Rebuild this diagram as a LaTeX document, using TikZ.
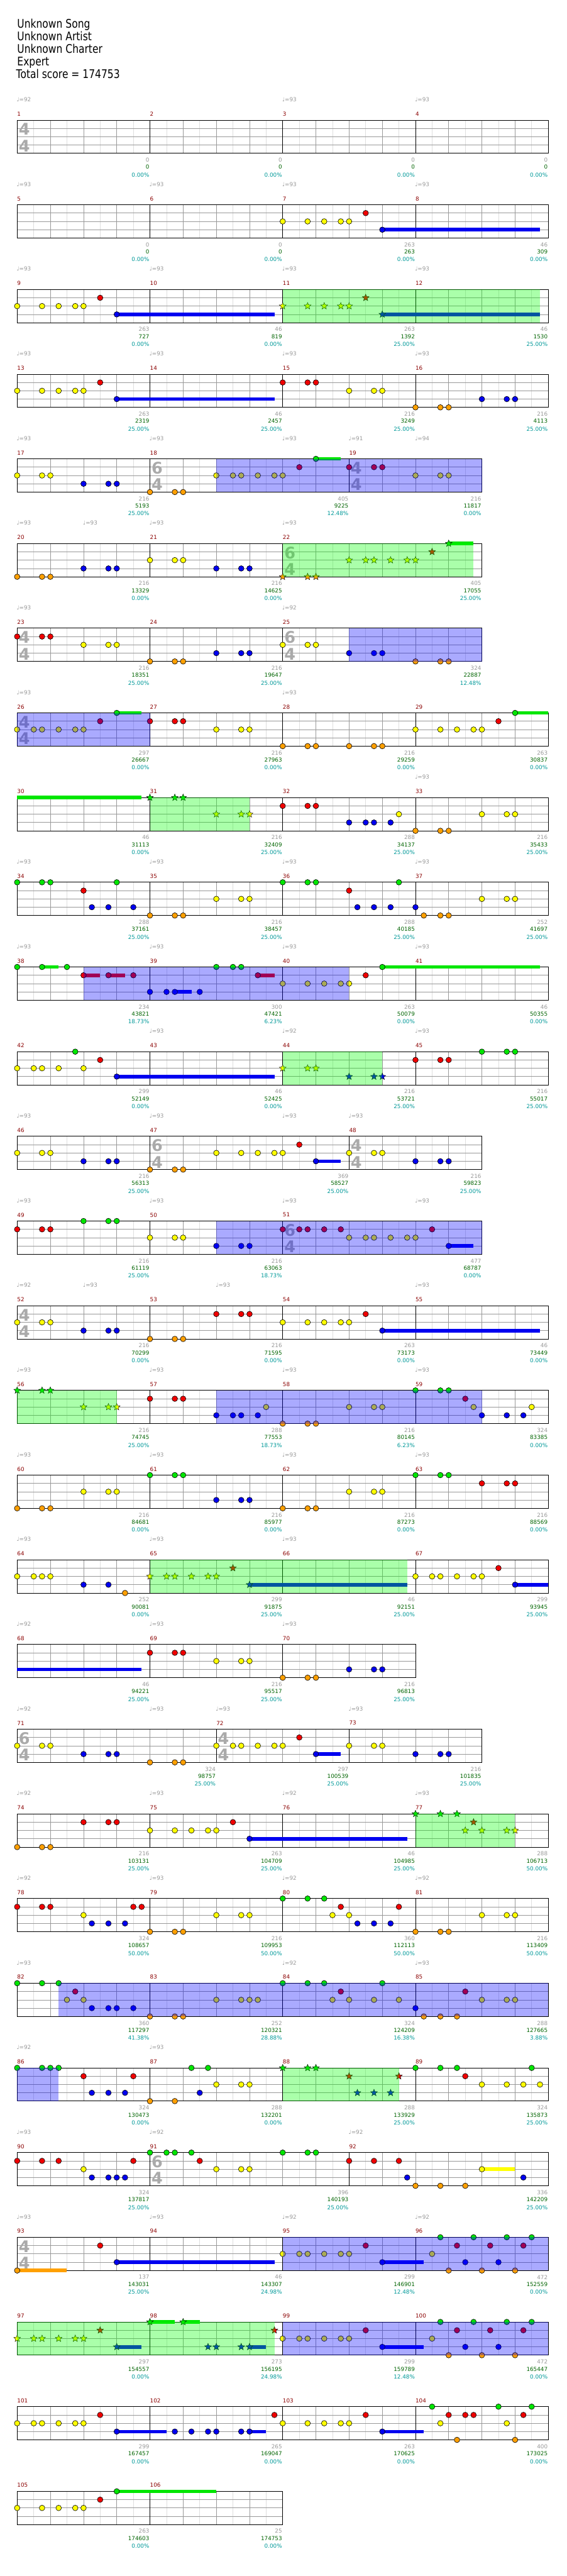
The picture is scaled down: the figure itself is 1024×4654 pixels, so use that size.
\documentclass[tikz,border=0pt]{standalone}
\usepackage{fontspec}
\setmainfont{DejaVu Sans}
\newfontfamily\hdrfont[FakeStretch=0.82]{DejaVu Sans}
\usetikzlibrary{shapes.geometric}
\definecolor{ln0}{RGB}{0,230,0}
\definecolor{ln1}{RGB}{240,0,0}
\definecolor{ln2}{RGB}{255,255,0}
\definecolor{ln3}{RGB}{0,0,240}
\definecolor{ln4}{RGB}{255,160,0}
\definecolor{mred}{RGB}{139,0,0}
\definecolor{sgrey}{RGB}{153,153,153}
\definecolor{sgreen}{RGB}{0,100,0}
\definecolor{steal}{RGB}{0,153,153}
\definecolor{tsgrey}{RGB}{170,170,170}
\tikzset{
 halfl/.style={draw=black!13, line width=0.8},
 lanel/.style={draw=black!40, line width=0.8},
 beatl/.style={draw=black!40, line width=0.8},
 meal/.style={draw=black, line width=0.9},
 boxl/.style={draw=black, line width=1},
 nt/.style={draw=black, line width=0.7},
 strn/.style={star, star points=5, star point ratio=2.3, minimum size=13, inner sep=0, draw=black, line width=0.5},
 smalltxt/.style={inner sep=0, font=\fontsize{10}{10}\selectfont},
 mnum/.style={smalltxt, text=mred, anchor=west},
 sc1/.style={smalltxt, text=sgrey, anchor=east},
 sc2/.style={smalltxt, text=sgreen, anchor=east},
 sc3/.style={smalltxt, text=steal, anchor=east},
 tmpst/.style={smalltxt, text=sgrey, anchor=west},
 tsig/.style={inner sep=0, text=tsgrey, font=\fontsize{29}{29}\selectfont\bfseries},
 hdr/.style={inner sep=0, anchor=base west, font=\hdrfont\fontsize{21.5}{21.5}\selectfont},
 spblue/.style={fill=blue, fill opacity=0.333},
 spgreen/.style={fill=green, fill opacity=0.333}
}
\newcommand\meas[6]{%
 \pgfmathsetmacro\xa{15*#1}%
 \pgfmathsetmacro\xb{15*#1+60*#2}%
 \foreach \k in {1,...,#2}{\draw[halfl] (\xa+60*\k-30,0) -- (\xa+60*\k-30,60);}%
 \foreach \yy in {15,30,45}{\draw[lanel] (\xa,\yy) -- (\xb,\yy);}%
 \pgfmathtruncatemacro\nb{#2-1}%
 \foreach \k in {1,...,\nb}{\draw[beatl] (\xa+60*\k,0) -- (\xa+60*\k,60);}%
 \draw[meal] (\xa,0) -- (\xa,60);%
 \node[mnum] at (\xa,-11) {#3};%
 \node[sc1] at (\xb-1,72) {#4};%
 \node[sc2] at (\xb-1,85) {#5};%
 \node[sc3] at (\xb-1,99) {#6\%};%
}
\newcommand\rowbox[1]{\draw[boxl] (0,0) rectangle (15*#1,60);}
\newcommand\nts[2]{\foreach \q in {#2}{\draw[nt,fill=ln#1] (15*\q,15*#1) circle (5);}}
\newcommand\stz[2]{\foreach \q in {#2}{\node[strn,fill=ln#1] at (15*\q,15*#1) {};}}
\newcommand\sus[3]{\fill[ln#3] (15*#1,15*#3-3.2) rectangle (15*#2,15*#3+3.2);}
\newcommand\spb[2]{\fill[spblue] (15*#1,0) rectangle (15*#2,60);}
\newcommand\spg[2]{\fill[spgreen] (15*#1,0) rectangle (15*#2,60);}
\newcommand\tmpo[2]{\node[tmpst] at (15*#1-1,-37) {♩=#2};}
\newcommand\tsg[3]{\node[tsig] at (15*#1+13,16.5) {#2};\node[tsig] at (15*#1+13,46.5) {#3};}
\newcommand\tail[1]{% shared pattern of rows 26 and 27 from q32
 \nts{2}{32,34,35,37,39,40}\nts{1}{42}\sus{44}{49}{3}\nts{3}{44}\nts{2}{50}
 \nts{0}{51,55,59,62}\nts{1}{53,57,61}\nts{3}{54,58}\nts{4}{52,56,60}}
\begin{document}
\begin{tikzpicture}[x=1pt,y=-1pt]
\useasboundingbox (0,0) rectangle (1024,4654);
\fill[white] (0,0) rectangle (1024,4654);
% header
\node[hdr] (song) at (31,50) {Unknown Song};
\node[hdr] (artist) at (31,73) {Unknown Artist};
\node[hdr] (charter) at (31,96) {Unknown Charter};
\node[hdr] (diff) at (31,119) {Expert};
\node[hdr] (total) at (29,142) {Total score = 174753};
% row 1
\begin{scope}[shift={(31,217)}]
\meas{0}{4}{1}{0}{0}{0.00}\meas{16}{4}{2}{0}{0}{0.00}\meas{32}{4}{3}{0}{0}{0.00}\meas{48}{4}{4}{0}{0}{0.00}
\rowbox{64}\tsg{0}{4}{4}
\tmpo{0}{92}\tmpo{32}{93}\tmpo{48}{93}
\end{scope}
% row 2
\begin{scope}[shift={(31,370)}]
\meas{0}{4}{5}{0}{0}{0.00}\meas{16}{4}{6}{0}{0}{0.00}\meas{32}{4}{7}{263}{263}{0.00}\meas{48}{4}{8}{46}{309}{0.00}
\rowbox{64}
\sus{44}{63}{3}\nts{2}{32,35,37,39,40}\nts{1}{42}\nts{3}{44}
\tmpo{0}{93}\tmpo{16}{93}\tmpo{32}{93}\tmpo{48}{93}
\end{scope}
% row 3
\begin{scope}[shift={(31,523)}]
\meas{0}{4}{9}{263}{727}{0.00}\meas{16}{4}{10}{46}{819}{0.00}\meas{32}{4}{11}{263}{1392}{25.00}\meas{48}{4}{12}{46}{1530}{25.00}
\rowbox{64}
\sus{12}{31}{3}\nts{2}{0,3,5,7,8}\nts{1}{10}\nts{3}{12}
\sus{44}{63}{3}\stz{2}{32,35,37,39,40}\stz{1}{42}\stz{3}{44}
\spg{32}{63}
\tmpo{0}{93}\tmpo{16}{93}\tmpo{32}{93}\tmpo{48}{93}
\end{scope}
% row 4
\begin{scope}[shift={(31,676)}]
\meas{0}{4}{13}{263}{2319}{25.00}\meas{16}{4}{14}{46}{2457}{25.00}\meas{32}{4}{15}{216}{3249}{25.00}\meas{48}{4}{16}{216}{4113}{25.00}
\rowbox{64}
\sus{12}{31}{3}\nts{2}{0,3,5,7,8}\nts{1}{10}\nts{3}{12}
\nts{1}{32,35,36}\nts{2}{40,43,44}\nts{4}{48,51,52}\nts{3}{56,59,60}
\tmpo{0}{93}\tmpo{16}{93}\tmpo{32}{93}\tmpo{48}{93}
\end{scope}
% row 5
\begin{scope}[shift={(31,829)}]
\meas{0}{4}{17}{216}{5193}{25.00}\meas{16}{6}{18}{405}{9225}{12.48}\meas{40}{4}{19}{216}{11817}{0.00}
\rowbox{56}\tsg{16}{6}{4}\tsg{40}{4}{4}
\nts{2}{0,3,4}\nts{3}{8,11,12}\nts{4}{16,19,20}
\nts{2}{24,26,27,29,31,32}\nts{1}{34}\sus{36}{39}{0}\nts{0}{36}\nts{1}{40,43,44}\nts{2}{48,51,52}
\spb{24}{56}
\tmpo{0}{93}\tmpo{16}{93}\tmpo{32}{93}\tmpo{40}{91}\tmpo{48}{94}
\end{scope}
% row 6
\begin{scope}[shift={(31,982)}]
\meas{0}{4}{20}{216}{13329}{0.00}\meas{16}{4}{21}{216}{14625}{0.00}\meas{32}{6}{22}{405}{17055}{25.00}
\rowbox{56}\tsg{32}{6}{4}
\nts{4}{0,3,4}\nts{3}{8,11,12}\nts{2}{16,19,20}\nts{3}{24,27,28}
\stz{4}{32,35,36}\stz{2}{40,42,43,45,47,48}\stz{1}{50}\sus{52}{55}{0}\stz{0}{52}
\spg{32}{55}
\tmpo{0}{93}\tmpo{8}{93}\tmpo{16}{93}\tmpo{32}{93}
\end{scope}
% row 7
\begin{scope}[shift={(31,1135)}]
\meas{0}{4}{23}{216}{18351}{25.00}\meas{16}{4}{24}{216}{19647}{25.00}\meas{32}{6}{25}{324}{22887}{12.48}
\rowbox{56}\tsg{0}{4}{4}\tsg{32}{6}{4}
\nts{1}{0,3,4}\nts{2}{8,11,12}\nts{4}{16,19,20}\nts{3}{24,27,28}\nts{2}{32,35,36}\nts{3}{40,43,44}\nts{4}{48,51,52}
\spb{40}{56}
\tmpo{0}{93}\tmpo{32}{92}
\end{scope}
% row 8
\begin{scope}[shift={(31,1288)}]
\meas{0}{4}{26}{297}{26667}{0.00}\meas{16}{4}{27}{216}{27963}{0.00}\meas{32}{4}{28}{216}{29259}{0.00}\meas{48}{4}{29}{263}{30837}{0.00}
\rowbox{64}\tsg{0}{4}{4}
\nts{2}{0,2,3,5,7,8}\nts{1}{10}\sus{12}{15}{0}\nts{0}{12}
\nts{1}{16,19,20}\nts{2}{24,27,28}\nts{4}{32,35,36,40,43,44}\nts{2}{48,51,53,55,56}\nts{1}{58}\sus{60}{64}{0}\nts{0}{60}
\spb{0}{16}
\tmpo{0}{93}\tmpo{32}{93}
\end{scope}
% row 9
\begin{scope}[shift={(31,1441)}]
\meas{0}{4}{30}{46}{31113}{0.00}\meas{16}{4}{31}{216}{32409}{25.00}\meas{32}{4}{32}{288}{34137}{25.00}\meas{48}{4}{33}{216}{35433}{25.00}
\rowbox{64}
\sus{0}{15}{0}\stz{0}{16,19,20}\stz{2}{24,27,28}
\nts{1}{32,35,36}\nts{3}{40,42,43,45}\nts{2}{46}\nts{4}{48,51,52}\nts{2}{56,59,60}
\spg{16}{28}
\tmpo{48}{93}
\end{scope}
% row 10
\begin{scope}[shift={(31,1594)}]
\meas{0}{4}{34}{288}{37161}{25.00}\meas{16}{4}{35}{216}{38457}{25.00}\meas{32}{4}{36}{288}{40185}{25.00}\meas{48}{4}{37}{252}{41697}{25.00}
\rowbox{64}
\nts{0}{0,3,4,12}\nts{1}{8}\nts{3}{9,11,14}\nts{4}{16,19,20}\nts{2}{24,27,28}\nts{0}{32,35,36,46}\nts{1}{40}\nts{3}{41,43,45,48}\nts{4}{49,51,52}\nts{2}{56,59,60}
\tmpo{0}{93}\tmpo{16}{93}\tmpo{32}{93}\tmpo{48}{93}
\end{scope}
% row 11
\begin{scope}[shift={(31,1747)}]
\meas{0}{4}{38}{234}{43821}{18.73}\meas{16}{4}{39}{300}{47421}{6.23}\meas{32}{4}{40}{263}{50079}{0.00}\meas{48}{4}{41}{46}{50355}{0.00}
\rowbox{64}
\nts{0}{0}\sus{3}{5}{0}\nts{0}{3,6}
\sus{8}{10}{1}\sus{11}{13}{1}\nts{1}{8,11,14}
\sus{19}{21}{3}\nts{3}{16,18,19,22}
\nts{0}{24,26,27}\sus{29}{31}{1}\nts{1}{29}
\nts{2}{32,35,37,39,40}\nts{1}{42}\sus{44}{63}{0}\nts{0}{44}
\spb{8}{40}
\tmpo{0}{93}\tmpo{16}{93}\tmpo{32}{93}\tmpo{48}{93}
\end{scope}
% row 12
\begin{scope}[shift={(31,1900)}]
\meas{0}{4}{42}{299}{52149}{0.00}\meas{16}{4}{43}{46}{52425}{0.00}\meas{32}{4}{44}{216}{53721}{25.00}\meas{48}{4}{45}{216}{55017}{25.00}
\rowbox{64}
\nts{2}{0,2,3,5,8}\nts{0}{7}\nts{1}{10}\sus{12}{31}{3}\nts{3}{12}
\stz{2}{32,35,36}\stz{3}{40,43,44}
\nts{1}{48,51,52}\nts{0}{56,59,60}
\spg{32}{44}
\tmpo{16}{93}\tmpo{32}{92}\tmpo{48}{93}
\end{scope}
% row 13
\begin{scope}[shift={(31,2053)}]
\meas{0}{4}{46}{216}{56313}{25.00}\meas{16}{6}{47}{369}{58527}{25.00}\meas{40}{4}{48}{216}{59823}{25.00}
\rowbox{56}\tsg{16}{6}{4}\tsg{40}{4}{4}
\nts{2}{0,3,4}\nts{3}{8,11,12}\nts{4}{16,19,20}\nts{2}{24,27,29,31,32}\nts{1}{34}\sus{36}{39}{3}\nts{3}{36}\nts{2}{40,43,44}\nts{3}{48,51,52}
\tmpo{0}{93}\tmpo{16}{93}\tmpo{32}{93}\tmpo{40}{93}
\end{scope}
% row 14
\begin{scope}[shift={(31,2206)}]
\meas{0}{4}{49}{216}{61119}{25.00}\meas{16}{4}{50}{216}{63063}{18.73}\meas{32}{6}{51}{477}{68787}{0.00}
\rowbox{56}\tsg{32}{6}{4}
\nts{1}{0,3,4}\nts{0}{8,11,12}\nts{2}{16,19,20}\nts{3}{24,27,28}\nts{1}{32,34,35,37,39,50}\nts{2}{40,42,43,45,47,48}\sus{52}{55}{3}\nts{3}{52}
\spb{24}{56}
\tmpo{0}{93}\tmpo{16}{93}\tmpo{32}{93}\tmpo{48}{93}
\end{scope}
% row 15
\begin{scope}[shift={(31,2359)}]
\meas{0}{4}{52}{216}{70299}{0.00}\meas{16}{4}{53}{216}{71595}{0.00}\meas{32}{4}{54}{263}{73173}{0.00}\meas{48}{4}{55}{46}{73449}{0.00}
\rowbox{64}\tsg{0}{4}{4}
\nts{2}{0,3,4}\nts{3}{8,11,12}\nts{4}{16,19,20}\nts{1}{24,27,28}\nts{2}{32,35,37,39,40}\nts{1}{42}\sus{44}{63}{3}\nts{3}{44}
\tmpo{0}{92}\tmpo{8}{93}\tmpo{24}{93}\tmpo{48}{93}
\end{scope}
% row 16
\begin{scope}[shift={(31,2512)}]
\meas{0}{4}{56}{216}{74745}{25.00}\meas{16}{4}{57}{288}{77553}{18.73}\meas{32}{4}{58}{216}{80145}{6.23}\meas{48}{4}{59}{324}{83385}{0.00}
\rowbox{64}
\stz{0}{0,3,4}\stz{2}{8,11,12}
\nts{1}{16,19,20}\nts{3}{24,26,27,29}\nts{2}{30}\nts{4}{32,35,36}\nts{2}{40,43,44}\nts{0}{48,51,52}\nts{1}{54}\nts{2}{55}\nts{3}{56,59,61}\nts{2}{62}
\spg{0}{12}\spb{24}{56}
\tmpo{0}{93}\tmpo{16}{93}\tmpo{32}{93}\tmpo{48}{93}
\end{scope}
% row 17
\begin{scope}[shift={(31,2665)}]
\meas{0}{4}{60}{216}{84681}{0.00}\meas{16}{4}{61}{216}{85977}{0.00}\meas{32}{4}{62}{216}{87273}{0.00}\meas{48}{4}{63}{216}{88569}{0.00}
\rowbox{64}
\nts{4}{0,3,4}\nts{2}{8,11,12}\nts{0}{16,19,20}\nts{3}{24,27,28}\nts{4}{32,35,36}\nts{2}{40,43,44}\nts{0}{48,51,52}\nts{1}{56,59,60}
\tmpo{0}{93}\tmpo{16}{93}\tmpo{32}{93}\tmpo{48}{93}
\end{scope}
% row 18
\begin{scope}[shift={(31,2818)}]
\meas{0}{4}{64}{252}{90081}{0.00}\meas{16}{4}{65}{299}{91875}{25.00}\meas{32}{4}{66}{46}{92151}{25.00}\meas{48}{4}{67}{299}{93945}{25.00}
\rowbox{64}
\nts{2}{0,2,3,4}\nts{3}{8,11}\nts{4}{13}
\stz{2}{16,18,19,21,23,24}\stz{1}{26}\sus{28}{47}{3}\stz{3}{28}
\nts{2}{48,50,51,53,55,56}\nts{1}{58}\sus{60}{64}{3}\nts{3}{60}
\spg{16}{47}
\tmpo{0}{93}\tmpo{16}{93}\tmpo{32}{93}
\end{scope}
% row 19
\begin{scope}[shift={(31,2971)}]
\meas{0}{4}{68}{46}{94221}{25.00}\meas{16}{4}{69}{216}{95517}{25.00}\meas{32}{4}{70}{216}{96813}{25.00}
\rowbox{48}
\sus{0}{15}{3}\nts{1}{16,19,20}\nts{2}{24,27,28}\nts{4}{32,35,36}\nts{3}{40,43,44}
\tmpo{0}{92}\tmpo{16}{93}\tmpo{32}{93}
\end{scope}
% row 20
\begin{scope}[shift={(31,3124)}]
\meas{0}{6}{71}{324}{98757}{25.00}\meas{24}{4}{72}{297}{100539}{25.00}\meas{40}{4}{73}{216}{101835}{25.00}
\rowbox{56}\tsg{0}{6}{4}\tsg{24}{4}{4}
\nts{2}{0,3,4}\nts{3}{8,11,12}\nts{4}{16,19,20}\nts{2}{24,26,27,29,31,32}\nts{1}{34}\sus{36}{39}{3}\nts{3}{36}\nts{2}{40,43,44}\nts{3}{48,51,52}
\tmpo{0}{92}\tmpo{16}{93}\tmpo{24}{93}\tmpo{40}{93}
\end{scope}
% row 21
\begin{scope}[shift={(31,3277)}]
\meas{0}{4}{74}{216}{103131}{25.00}\meas{16}{4}{75}{263}{104709}{25.00}\meas{32}{4}{76}{46}{104985}{25.00}\meas{48}{4}{77}{288}{106713}{50.00}
\rowbox{64}
\nts{4}{0,3,4}\nts{1}{8,11,12}\nts{2}{16,19,21,23,24}\nts{1}{26}\sus{28}{47}{3}\nts{3}{28}
\stz{0}{48,51,53}\stz{1}{55}\stz{2}{54,56,59,60}
\spg{48}{60}
\tmpo{0}{92}\tmpo{16}{93}\tmpo{32}{92}\tmpo{48}{93}
\end{scope}
% row 22
\begin{scope}[shift={(31,3430)}]
\meas{0}{4}{78}{324}{108657}{50.00}\meas{16}{4}{79}{216}{109953}{50.00}\meas{32}{4}{80}{360}{112113}{50.00}\meas{48}{4}{81}{216}{113409}{50.00}
\rowbox{64}
\nts{1}{0,3,4,14,15}\nts{2}{8}\nts{3}{9,11,13}\nts{4}{16,19,20}\nts{2}{24,27,28}\nts{0}{32,35,37}\nts{2}{38,40}\nts{1}{39,46}\nts{3}{41,43,45}\nts{4}{48,51,52}\nts{2}{56,59,60}
\tmpo{0}{92}\tmpo{16}{93}\tmpo{32}{92}\tmpo{48}{92}
\end{scope}
% row 23
\begin{scope}[shift={(31,3583)}]
\meas{0}{4}{82}{360}{117297}{41.38}\meas{16}{4}{83}{252}{120321}{28.88}\meas{32}{4}{84}{324}{124209}{16.38}\meas{48}{4}{85}{288}{127665}{3.88}
\rowbox{64}
\nts{0}{0,3,5}\nts{1}{7}\nts{2}{6,8}\nts{3}{9,11,12,14}\nts{4}{16,19,20}\nts{2}{24,27,28,29}\nts{0}{32,35,37,44}\nts{2}{38,40,43,46}\nts{1}{39}\nts{3}{48}\nts{4}{49,51,53}\nts{1}{54}\nts{2}{56,59,60}
\spb{5}{64}
\tmpo{0}{93}\tmpo{32}{92}\tmpo{48}{93}
\end{scope}
% row 24
\begin{scope}[shift={(31,3736)}]
\meas{0}{4}{86}{324}{130473}{0.00}\meas{16}{4}{87}{288}{132201}{0.00}\meas{32}{4}{88}{288}{133929}{25.00}\meas{48}{4}{89}{324}{135873}{25.00}
\rowbox{64}
\nts{0}{0,3,4,5}\nts{1}{8,14}\nts{3}{9,11,13}\nts{4}{16,19}\nts{0}{21,23}\nts{3}{22}\nts{2}{24,27,28}
\stz{0}{32,35,36}\stz{1}{40,46}\stz{3}{41,43,45}
\nts{0}{48,51,53,62}\nts{1}{54}\nts{2}{56,59,61,63}
\spb{0}{5}\spg{32}{46}
\tmpo{0}{92}\tmpo{16}{93}
\end{scope}
% row 25
\begin{scope}[shift={(31,3889)}]
\meas{0}{4}{90}{324}{137817}{25.00}\meas{16}{6}{91}{396}{140193}{25.00}\meas{40}{6}{92}{336}{142209}{25.00}
\rowbox{64}\tsg{16}{6}{4}
\nts{1}{0,3,5,14}\nts{2}{8}\nts{3}{9,11,12,13}\nts{0}{16,18,19,21}\nts{1}{22}\nts{2}{24,27,28}\nts{0}{32,35,36}\nts{1}{40,43,46}\nts{3}{47}\nts{4}{48,51,54}\sus{56}{60}{2}\nts{2}{56}\nts{3}{61}
\tmpo{0}{93}\tmpo{16}{92}\tmpo{40}{92}
\end{scope}
% row 26
\begin{scope}[shift={(31,4042)}]
\meas{0}{4}{93}{137}{143031}{25.00}\meas{16}{4}{94}{46}{143307}{24.98}\meas{32}{4}{95}{299}{146901}{12.48}\meas{48}{4}{96}{472}{152559}{0.00}
\rowbox{64}\tsg{0}{4}{4}
\sus{0}{6}{4}\nts{4}{0}\nts{1}{10}\sus{12}{31}{3}\nts{3}{12}
\tail{}
\spb{32}{64}
\tmpo{0}{93}\tmpo{16}{93}\tmpo{32}{92}\tmpo{48}{92}
\end{scope}
% row 27
\begin{scope}[shift={(31,4195)}]
\meas{0}{4}{97}{297}{154557}{0.00}\meas{16}{4}{98}{273}{156195}{24.98}\meas{32}{4}{99}{299}{159789}{12.48}\meas{48}{4}{100}{472}{165447}{0.00}
\rowbox{64}
\stz{2}{0,2,3,5,7,8}\stz{1}{10}\sus{12}{15}{3}\stz{3}{12}\sus{16}{19}{0}\sus{20}{22}{0}\stz{0}{16,20}\sus{28}{30}{3}\stz{3}{23,24,27,28}\stz{1}{31}
\tail{}
\spg{0}{31}\spb{32}{64}
\end{scope}
% row 28
\begin{scope}[shift={(31,4348)}]
\meas{0}{4}{101}{299}{167457}{0.00}\meas{16}{4}{102}{265}{169047}{0.00}\meas{32}{4}{103}{263}{170625}{0.00}\meas{48}{4}{104}{400}{173025}{0.00}
\rowbox{64}
\nts{2}{0,2,3,5,7,8}\nts{1}{10}\sus{12}{18}{3}\sus{28}{30}{3}\nts{3}{12,19,21,23,24,27,28}\nts{1}{31}
\nts{2}{32,35,37,39,40}\nts{1}{42}\sus{44}{49}{3}\nts{3}{44}\nts{0}{50,58,62}\nts{2}{51,59}\nts{1}{52,54,55,61}\nts{4}{53,60}
\end{scope}
% row 29
\begin{scope}[shift={(31,4501)}]
\meas{0}{4}{105}{263}{174603}{0.00}\meas{16}{4}{106}{25}{174753}{0.00}
\rowbox{32}
\nts{2}{0,3,5,7,8}\nts{1}{10}\sus{12}{24}{0}\nts{0}{12}
\end{scope}
\end{tikzpicture}
\end{document}
